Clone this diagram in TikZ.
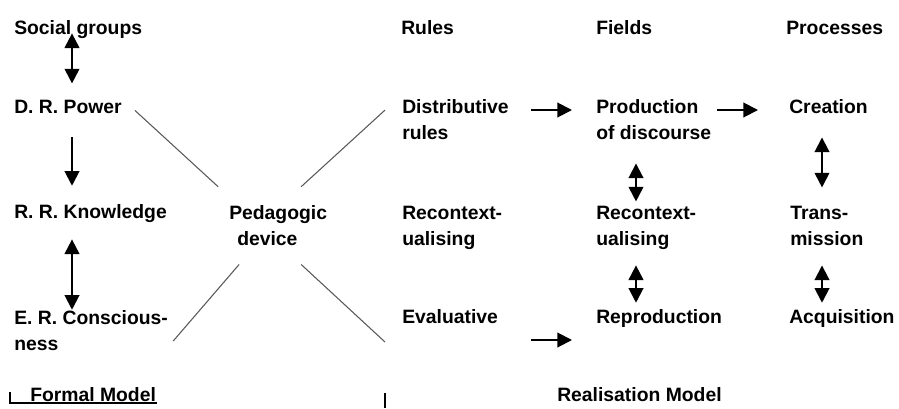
\documentclass[tikz,border=0pt]{standalone}
\usepackage{fontspec}
\setmainfont{Liberation Sans}
\usetikzlibrary{arrows.meta}

\begin{document}
\begin{tikzpicture}[x=0.75pt, y=-0.75pt,
    txt/.style={anchor=base west, inner sep=0pt, align=left, font=\fontsize{14.5}{19.5}\selectfont\bfseries},
    arr/.style={-{Triangle[length=11pt,width=11pt]}, line width=1.5pt},
    dbl/.style={{Triangle[length=11pt,width=11pt]}-{Triangle[length=11pt,width=11pt]}, line width=1.5pt},
    xline/.style={draw=black!65, line width=0.8pt}]
    \useasboundingbox (0,0) rectangle (899,408);

    \node[txt] (sg) at (14,34) {Social groups};
    \node[txt] (rules) at (401,34) {Rules};
    \node[txt] (fields) at (596,34) {Fields};
    \node[txt] (procs) at (786,34) {Processes};

    \node[txt] (power) at (14,113) {D. R. Power};
    \node[txt] (know) at (14,218) {R. R. Knowledge};
    \node[txt] (cons) at (14,350) {E. R. Conscious-\\ness};
    \node[txt] (ped) at (229,245) {Pedagogic\\\hspace*{6pt}device};

    \node[txt] (dist) at (402,139) {Distributive\\rules};
    \node[txt] (recon1) at (402,245) {Recontext-\\ualising};
    \node[txt] (eval) at (402,323) {Evaluative};

    \node[txt] (prod) at (596,139) {Production\\of discourse};
    \node[txt] (recon2) at (596,245) {Recontext-\\ualising};
    \node[txt] (repro) at (596,323) {Reproduction};

    \node[txt] (crea) at (789,113) {Creation};
    \node[txt] (trans) at (790,245) {Trans-\\mission};
    \node[txt] (acq) at (789,323) {Acquisition};

    \node[txt] (fm) at (30,401) {Formal Model};
    \node[txt] (rm) at (557,401) {Realisation Model};

    \coordinate (c1) at (72,0);
    \coordinate (c3) at (636,0);
    \coordinate (c4) at (822,0);
    \coordinate (r1) at (0,110);
    \coordinate (r3) at (0,340);

    \draw[dbl, shorten <=-3.75pt, shorten >=12pt] (sg.south -| c1) -- (power.north -| c1);
    \draw[arr, shorten <=18pt, shorten >=13.5pt] (power.south -| c1) -- (know.north -| c1);
    \draw[dbl, shorten <=12.75pt, shorten >=0pt] (know.south -| c1) -- (cons.north -| c1);

    \draw[arr, shorten <=16.5pt, shorten >=18pt] (dist.east |- r1) -- (prod.west |- r1);
    \draw[arr, shorten <=4.5pt, shorten >=23.25pt] (prod.east |- r1) -- (crea.west |- r1);
    \draw[arr, shorten <=24.75pt, shorten >=18pt] (eval.east |- r3) -- (repro.west |- r3);

    \draw[dbl, shorten <=18pt, shorten >=3pt] (prod.south -| c3) -- (recon2.north -| c3);
    \draw[dbl, shorten <=12pt, shorten >=4.5pt] (recon2.south -| c3) -- (repro.north -| c3);
    \draw[dbl, shorten <=18pt, shorten >=13.5pt] (crea.south -| c4) -- (trans.north -| c4);
    \draw[dbl, shorten <=15pt, shorten >=4.5pt] (trans.south -| c4) -- (acq.north -| c4);

    \draw[xline] ([shift={(13,4)}]power.east) -- ([shift={(-60,-18)}]ped.north);
    \draw[xline] ([shift={(-17,-9)}]dist.west) -- ([shift={(23,-18)}]ped.north);
    \draw[xline] ([shift={(-39,19)}]ped.south) -- ([shift={(5,11)}]cons.east);
    \coordinate (xse) at (385,342);
    \draw[xline] ([shift={(23,19)}]ped.south) -- (xse);

    \draw[line width=0.8pt] (10,392) -- (10,403) -- (157,403);
    \draw[line width=0.8pt] (385,393) -- (385,408);
\end{tikzpicture}
\end{document}
